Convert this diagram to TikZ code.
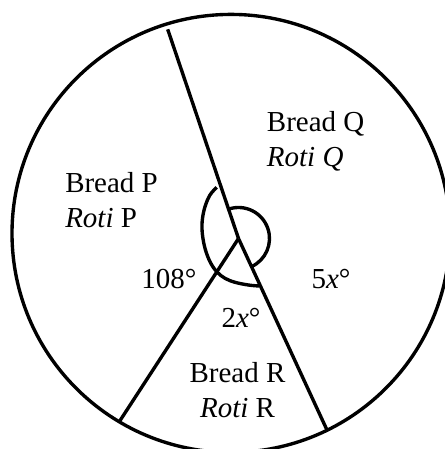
\documentclass[tikz,border=0pt]{standalone}
\usepackage{fontspec}
\setmainfont{Liberation Serif}
\begin{document}
\begin{tikzpicture}[
  x=0.025cm, y=0.025cm,
  every node/.style = {font=\fontsize{20.6}{24.9}\selectfont, inner sep=0pt},
  edge/.style = {line width=2.4pt},
]

% ── Frame ───────────────────────────────────────────────────────────────────
\useasboundingbox (0, 0) rectangle (445, 449);
\clip (0, 0) rectangle (445, 449);

% ── Circle and radii ────────────────────────────────────────────────────────
\coordinate (O)  at (231, 215.6);
\coordinate (V)  at (238.5, 210.5);
\coordinate (T)  at (167.7, 419.7);
\coordinate (BR) at (327.3, 18.3);
\coordinate (BL) at (119.3, 27.3);
\draw[edge] (O) circle (219);
\draw[edge] (V) -- (T);
\draw[edge] (V) -- (BR);
\draw[edge] (V) -- (BL);

% ── Angle marks ─────────────────────────────────────────────────────────────
\draw[edge] ([shift={(108.7:31)}]V) arc[start angle=108.7, end angle=-65.2, radius=31];
\draw[edge] plot[smooth, tension=0.6] coordinates {
  (216.7, 261.7) (210, 254) (205, 242.3) (202.3, 229) (202.3, 215.7)
  (205, 200.7) (210, 187.3) (216.7, 177.3) (225, 170.7) (235, 166.7)
  (248.3, 164) (259, 163)};

% ── Sector labels ───────────────────────────────────────────────────────────
\node[anchor=north west, align=left] (breadQ) at (266.7, 338.1)
  {Bread Q\\\textit{Roti Q}};
\node[anchor=north west, align=left] (breadP) at (65, 276.5)
  {Bread P\\\textit{Roti} P};
\node[anchor=north, align=center] (breadR) at (237.5, 87.1)
  {Bread R\\\textit{Roti} R};

% ── Angle labels ────────────────────────────────────────────────────────────
\node[anchor=base] (angP) at (169, 160.7) {108°};
\node[anchor=base] (angQ) at (331, 160.7) {5\textit{x}°};
\node[anchor=base] (angR) at (241, 121.5) {2\textit{x}°};

\end{tikzpicture}
\end{document}
